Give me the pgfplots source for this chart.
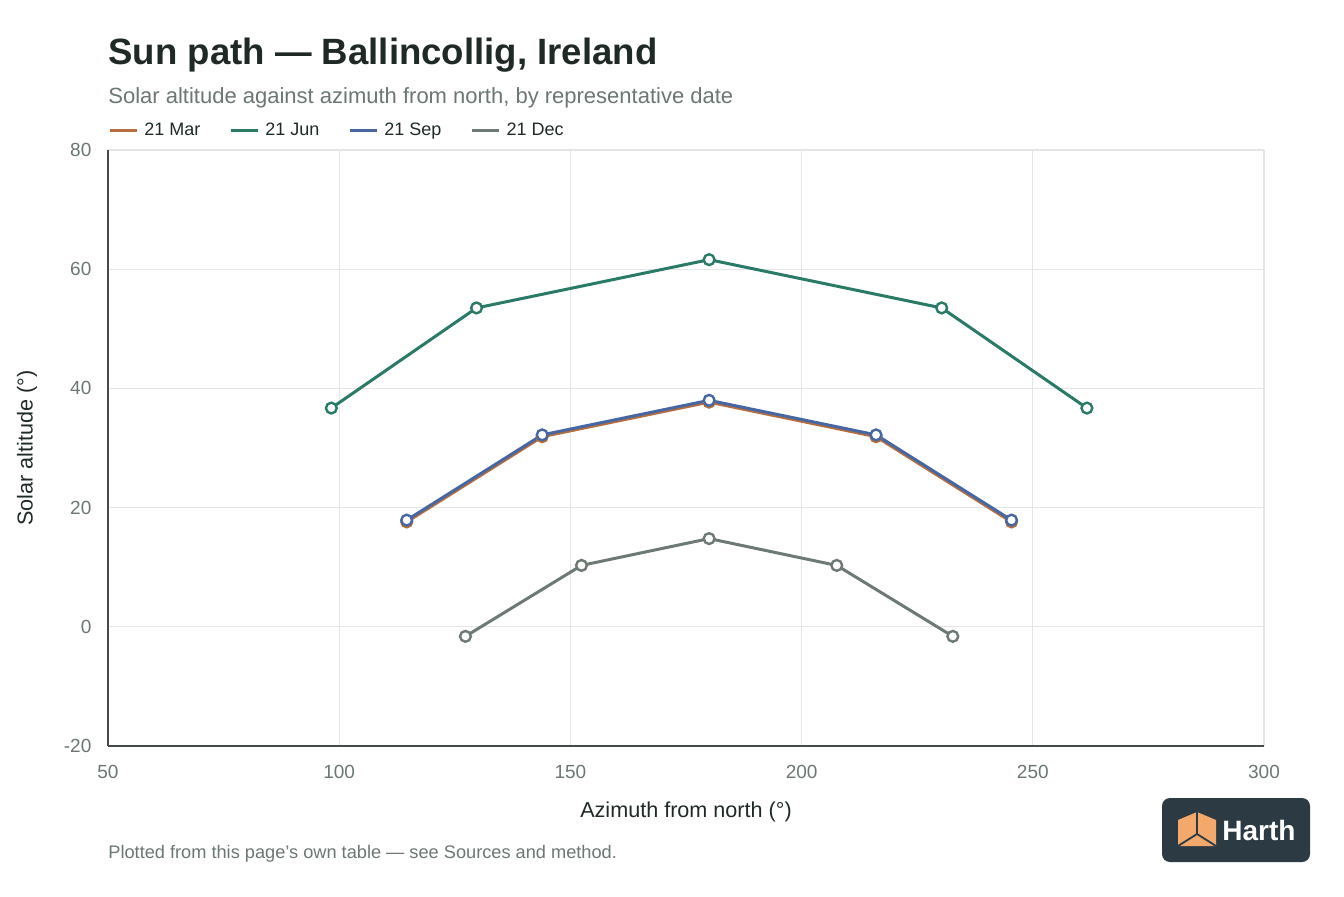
\documentclass[border=0pt]{standalone}
\usepackage{fontspec}
\setmainfont{Liberation Sans}
\usepackage{pgfplots}
\pgfplotsset{compat=1.18}

\definecolor{marc}{HTML}{B86D3C}
\definecolor{junc}{HTML}{2A7A68}
\definecolor{sepc}{HTML}{4767A3}
\definecolor{decc}{HTML}{6C7A73}
\definecolor{titlec}{HTML}{1F2A26}
\definecolor{subc}{HTML}{6B7773}
\definecolor{gridc}{HTML}{E4E6E6}
\definecolor{axc}{HTML}{454A4A}
\definecolor{logobg}{HTML}{2C3A43}
\definecolor{logoor}{HTML}{F4A96C}

\begin{document}
\begin{tikzpicture}
\useasboundingbox (0,0) rectangle (672pt,448pt);

\begin{axis}[
    at={(54pt,75pt)}, anchor=south west,
    scale only axis, width=578pt, height=298pt,
    xmin=50, xmax=300, ymin=-20, ymax=80,
    xtick={50,100,150,200,250,300},
    xticklabels={50,100,150,200,250,300},
    ytick={-20,0,20,40,60,80},
    yticklabels={-20,0,20,40,60,80},
    major tick length=0pt,
    tick label style={font=\fontsize{9.5}{11}\selectfont, text=subc},
    xticklabel style={yshift=-6pt},
    yticklabel style={xshift=-4.8pt},
    grid=major,
    major grid style={color=gridc, line width=0.6pt},
    axis lines=left,
    axis line style={-, color=axc, line width=1.1pt},
    xlabel={Azimuth from north (°)},
    ylabel={Solar altitude (°)},
    label style={font=\fontsize{10.8}{13}\selectfont, text=titlec},
    xlabel style={at={(axis description cs:0.5,-0.1107)}, anchor=center},
    ylabel style={at={(axis description cs:-0.0701,0.5)}, anchor=center},
    legend columns=-1,
    legend style={draw=none, fill=none, inner sep=0pt,
        at={(axis description cs:0,1)}, anchor=west, yshift=9.5pt,
        font=\fontsize{9}{11}\selectfont, text=titlec,
        nodes={inner sep=0.5pt},
        /tikz/every odd column/.append style={column sep=2.5pt},
        /tikz/every even column/.append style={column sep=14pt}},
    legend image code/.code={\draw[#1] (0pt,0pt) -- (13.5pt,0pt);},
    every axis plot/.append style={line width=1.5pt, mark=*,
        mark size=2.7pt, mark options={fill=white, line width=1.2pt}},
]
\addplot[color=marc] coordinates {(114.6,17.6) (143.9,31.9) (180,37.7) (216.1,31.9) (245.4,17.6)};
\addplot[color=junc] coordinates {(98.3,36.7) (129.7,53.5) (180,61.6) (230.3,53.5) (261.7,36.7)};
\addplot[color=sepc] coordinates {(114.6,17.9) (143.9,32.2) (180,38.0) (216.1,32.2) (245.4,17.9)};
\addplot[color=decc] coordinates {(127.3,-1.6) (152.4,10.3) (180,14.8) (207.6,10.3) (232.7,-1.6)};
\legend{21 Mar, 21 Jun, 21 Sep, 21 Dec}
\end{axis}

% titles
\node[anchor=base west, inner sep=0pt, text=titlec, font=\fontsize{18.3}{22}\selectfont\bfseries] at (54pt,415.5pt) {Sun path — Ballincollig, Ireland};
\node[anchor=base west, inner sep=0pt, text=subc, font=\fontsize{11}{13}\selectfont] at (54pt,396pt) {Solar altitude against azimuth from north, by representative date};
\node[anchor=base west, inner sep=0pt, text=subc, font=\fontsize{9.1}{11}\selectfont] at (54pt,19pt) {Plotted from this page{\char"27}s own table — see Sources and method.};

% logo
\fill[logobg, rounded corners=4pt] (581pt,17pt) rectangle (655pt,49pt);
\fill[logoor] (598.5pt,42pt) -- (608pt,38pt) -- (608pt,25pt) -- (589pt,25pt) -- (589pt,38pt) -- cycle;
\draw[logobg, line width=0.9pt] (598.5pt,42pt) -- (598.5pt,31pt) -- (589pt,25pt) (598.5pt,31pt) -- (608pt,25pt);
\node[anchor=west, inner sep=0pt, text=white, font=\fontsize{14}{16}\selectfont\bfseries] at (611pt,33pt) {Harth};
\end{tikzpicture}
\end{document}
